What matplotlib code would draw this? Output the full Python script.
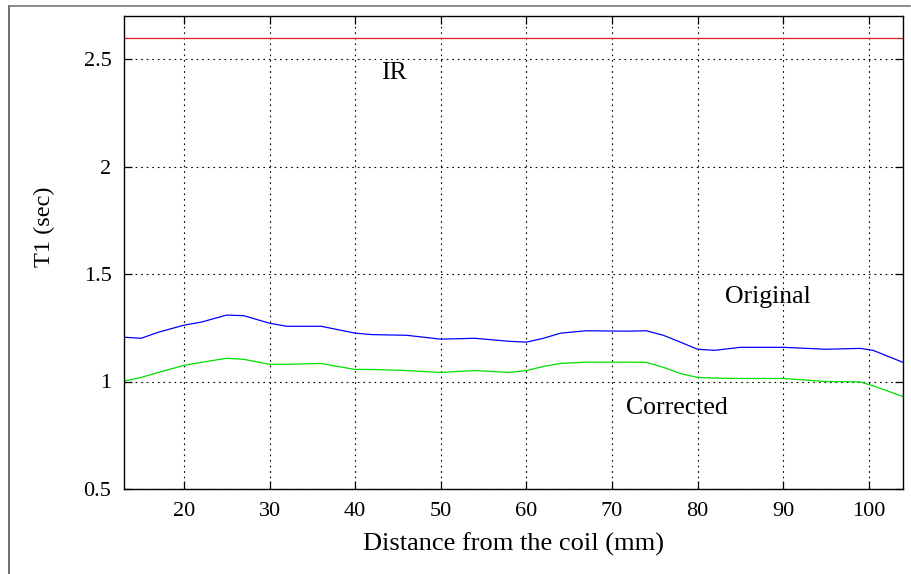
"""T1 along distance from coil: IR reference vs original / corrected."""
import numpy as np
import matplotlib
matplotlib.use('Agg')
import matplotlib.pyplot as plt
from matplotlib.lines import Line2D

plt.rcParams['font.family'] = ['Liberation Serif', 'DejaVu Serif']

dist = [13, 15, 17, 20, 22, 25, 27, 30, 32, 36, 40, 42, 46, 50, 54, 58, 60, 62, 64,
        67, 72, 74, 76, 78, 80, 82, 85, 90, 95, 99, 100.5, 104]
t1_orig = [1.206, 1.201, 1.229, 1.262, 1.276, 1.309, 1.306, 1.271, 1.257, 1.257, 1.225,
           1.218, 1.215, 1.197, 1.201, 1.187, 1.183, 1.201, 1.225, 1.236, 1.234, 1.236,
           1.215, 1.183, 1.150, 1.145, 1.159, 1.159, 1.150, 1.154, 1.145, 1.089]
t1_corr = [1.002, 1.019, 1.042, 1.075, 1.089, 1.108, 1.103, 1.080, 1.080, 1.084, 1.056,
           1.056, 1.051, 1.042, 1.051, 1.042, 1.051, 1.070, 1.084, 1.090, 1.090, 1.089,
           1.066, 1.037, 1.019, 1.016, 1.014, 1.014, 1.000, 0.998, 0.980, 0.930]
t1_ir = 2.6

xticks = [20, 30, 40, 50, 60, 70, 80, 90, 100]
yticks = [0.5, 1, 1.5, 2, 2.5]
ytick_labels = ['0.5', '1', '1.5', '2', '2.5']

fig = plt.figure(figsize=(9.12, 5.74), dpi=100)
ax = fig.add_axes([124/912, 1 - 489/574, (903-124)/912, (489-16)/574])

ax.axhline(t1_ir, color='#e02020', lw=0.9)
ax.plot(dist, t1_orig, color='#0000ff', lw=0.9)
ax.plot(dist, t1_corr, color='#00e000', lw=0.9)

ax.set_xlim(13, 104)
ax.set_ylim(0.5, 2.7)
ax.set_xticks(xticks)
ax.set_yticks(yticks)
ax.set_yticklabels(ytick_labels)
ax.tick_params(direction='in', length=6, width=0.9, top=True, right=True,
               labelsize=16, pad=9, colors='black')
ax.grid(True, color='black', ls=(0, (1.5, 3.5)), lw=0.8)
for s in ax.spines.values():
    s.set_linewidth(1.0)

ax.text(44.5, 2.435, 'IR', fontsize=18.5, ha='center', va='center')
ax.text(88.2, 1.395, 'Original', fontsize=18.5, ha='center', va='center')
ax.text(77.6, 0.878, 'Corrected', fontsize=18.5, ha='center', va='center')

ax.set_xlabel('Distance from the coil (mm)', fontsize=19, labelpad=8.5)
ax.set_ylabel('T1 (sec)', fontsize=17.5)
ax.yaxis.set_label_coords(-0.088, 0.554)

# page frame
fig.add_artist(Line2D([9/912, 9/912], [0, 1 - 6/574], color='#555555', lw=1.2))
fig.add_artist(Line2D([9/912, 910/912], [1 - 6/574, 1 - 6/574], color='#777777', lw=1.2))

plt.savefig('out.png', dpi=100)
